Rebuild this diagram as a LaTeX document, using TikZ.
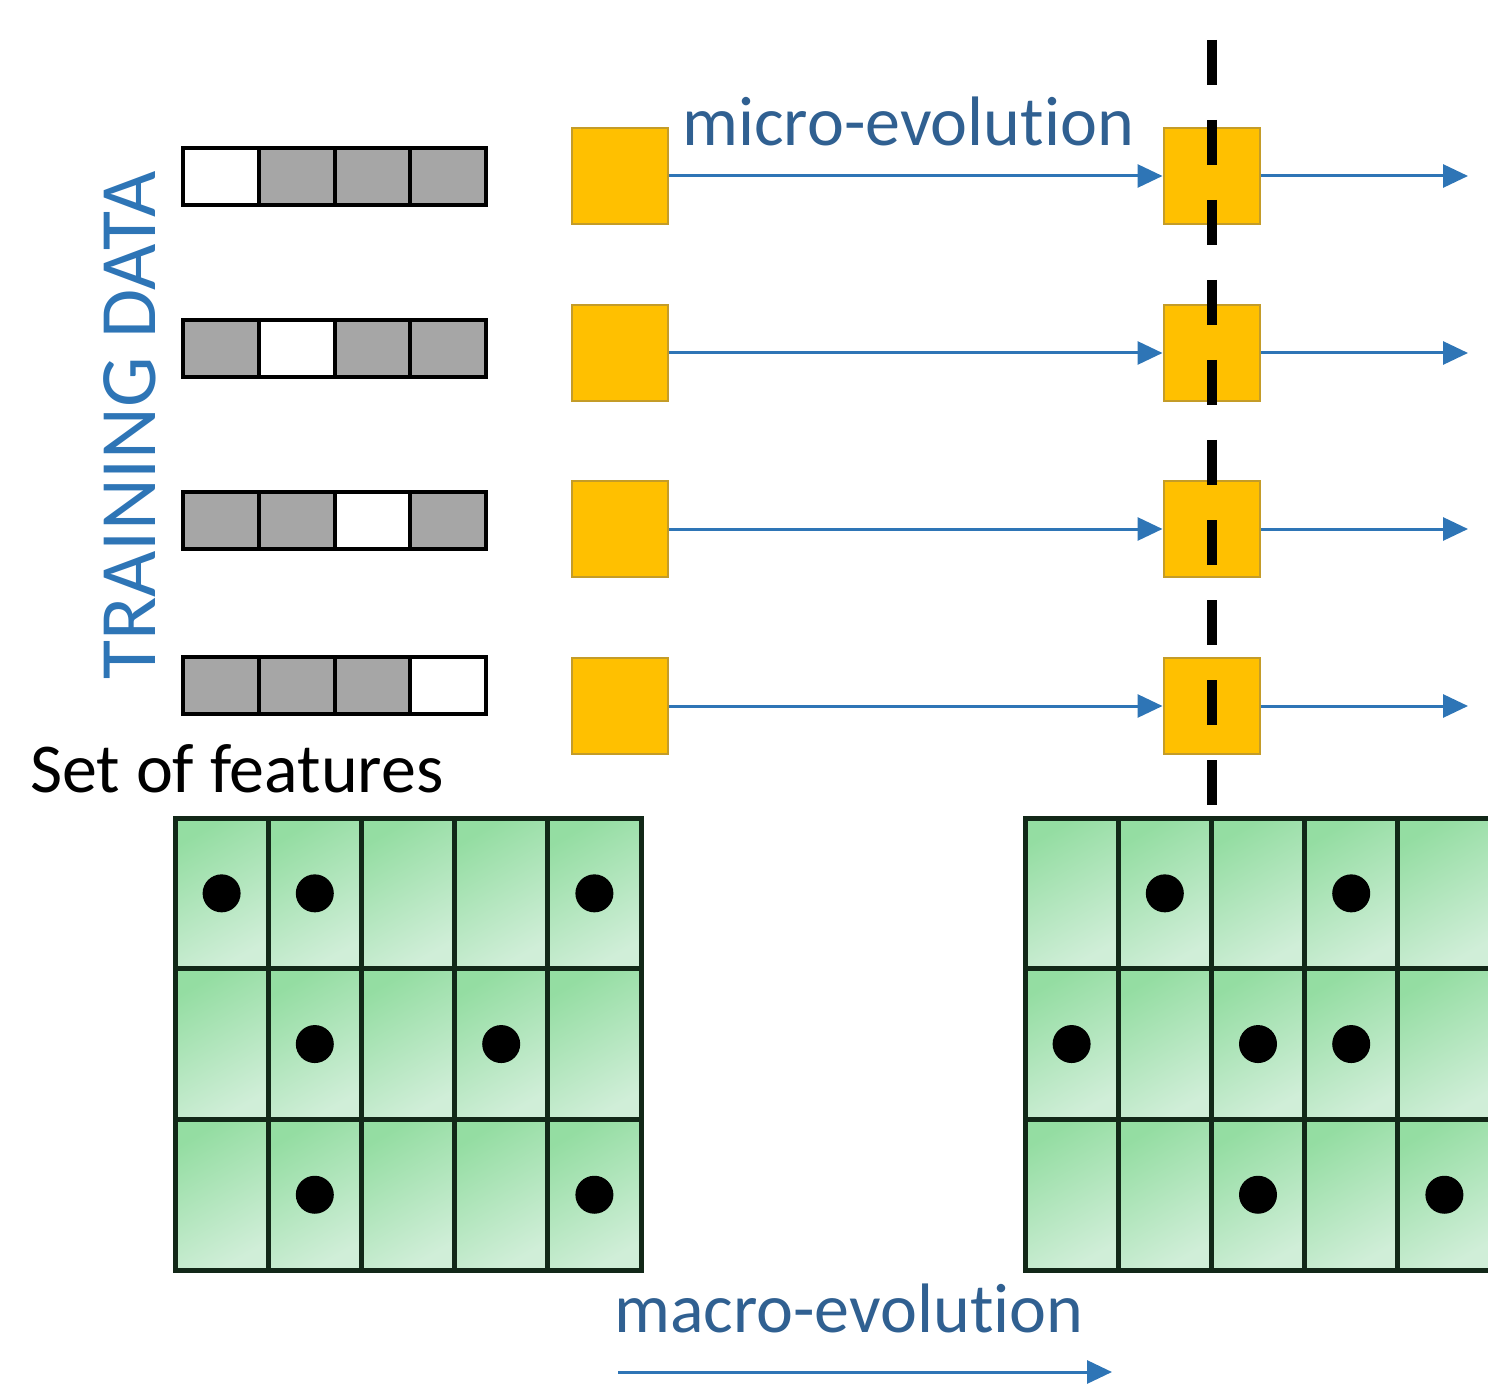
\documentclass[tikz,border=0pt]{standalone}
\usepackage{fontspec}
\setmainfont{Carlito}[Ligatures=NoCommon]
\usetikzlibrary{arrows.meta}

\definecolor{evoblue}{RGB}{46,117,182}
\definecolor{evotext}{RGB}{48,96,145}
\definecolor{boxorange}{RGB}{255,192,0}
\definecolor{boxedge}{RGB}{196,156,40}
\definecolor{cellgray}{RGB}{166,166,166}
\definecolor{gridline}{RGB}{18,40,24}
\definecolor{cellgreen}{RGB}{148,221,162}
\definecolor{cellpale}{RGB}{208,238,216}

\tikzset{every picture/.style={line width=0.75pt}}

\begin{document}
\begin{tikzpicture}[x=0.5pt,y=0.5pt,yscale=-1,xscale=1,
  sample/.style={draw=boxedge, fill=boxorange, line width=1pt, minimum size=48pt, inner sep=0pt},
  evo/.style={draw=evoblue, line width=1.5pt, -{Triangle[length=12.5pt,width=11.5pt]}},
  bit/.style={draw=black, line width=2pt},
  cellshade/.style={top color=cellgreen, bottom color=cellpale, shading angle=30},
  gridrule/.style={draw=gridline, line width=2.5pt},
  evotxt/.style={inner sep=0.75pt, text=evotext, font=\fontsize{35}{42}\selectfont}]
		\useasboundingbox (0,0) rectangle (1488,1385);
		\clip (0,0) rectangle (1488,1385);
		
		%Shape: feature vectors, one blank cell each
		\foreach \y/\w in {148/1,320/2,492/3,657/4} {
			\fill[cellgray] (183,\y) rectangle (486,\y+57);
			\fill[white] ({183+(\w-1)*75.75},\y) rectangle ++(75.75,57);
			\foreach \c in {1,2,3}
				\draw[bit] ({183+\c*75.75},\y) -- ++(0,57);
			\draw[bit] (183,\y) rectangle (486,\y+57);
		}
		
		%Shape: samples and their arrows
		\foreach \y [count=\i] in {176,353,529,706} {
			\node[sample] (src\i) at (620,\y) {};
			\node[sample] (gen\i) at (1211.5,\y) {};
			\coordinate (out\i) at (1468,\y);
			\draw[evo] (src\i) -- (gen\i);
			\draw[evo] (gen\i) -- (out\i);
		}
		
		%Shape: population grids
		\foreach \gx in {175,1025} {
			\foreach \c in {0,...,4}
				\foreach \r in {0,1,2}
					\shade[cellshade] ({\gx+\c*93.2},{818+\r*150.7}) rectangle ++(93.2,150.7);
			\foreach \c in {1,...,4}
				\draw[gridrule] ({\gx+\c*93.2},818) -- ++(0,452);
			\foreach \r in {1,2}
				\draw[gridrule] (\gx,{818+\r*150.7}) -- ++(466,0);
			\draw[gridrule] (\gx,818) rectangle ++(466,452);
		}
		
		%Shape: selected individuals
		\foreach \c/\r in {1/1,2/1,5/1,2/2,4/2,2/3,5/3}
			\fill ({175+(\c-0.5)*93.2},{818+(\r-0.5)*150.7}) circle (19);
		\foreach \c/\r in {2/1,4/1,1/2,3/2,4/2,3/3,5/3}
			\fill ({1025+(\c-0.5)*93.2},{818+(\r-0.5)*150.7}) circle (19);
		
		%Straight Lines: generation cut
		\coordinate (cut top) at (1212,40);
		\coordinate (cut bottom) at (1212,808);
		\draw[line width=5pt, dash pattern=on 22.5pt off 17.5pt] (cut top) -- (cut bottom);
		
		%Straight Lines: macro arrow
		\coordinate (macro start) at (618,1372);
		\coordinate (macro end) at (1112,1372);
		\draw[evo] (macro start) -- (macro end);
		
		\draw (680,146) node [anchor=base west][evotxt] (micro) {micro-evolution};
		\draw (612,1332) node [anchor=base west][evotxt] (macro) {macro-evolution};
		\draw (28,792) node [anchor=base west][evotxt, text=black] (features) {Set of features};
		\draw (155,682) node [anchor=base west, rotate=90][evotxt, text=evoblue, font=\fontsize{40}{48}\selectfont] (training) {TRAINING DATA};
		
\end{tikzpicture}
\end{document}
